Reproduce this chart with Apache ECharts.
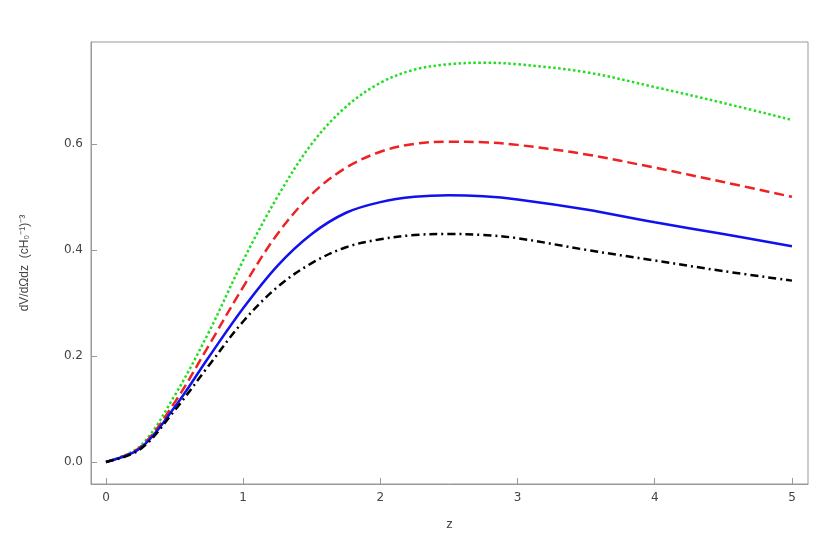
<!DOCTYPE html><html><head><meta charset="utf-8"><script src="https://cdn.jsdelivr.net/npm/echarts@6/dist/echarts.min.js"></script></head><body style="margin:0;background:#fff"><div id="c" style="width:820px;height:548px"></div><script>
const z=[0,0.25,0.5,0.75,1,1.25,1.5,1.75,2,2.25,2.5,2.75,3,3.5,4,4.5,5];
const green=[0,0.03,0.125,0.245,0.38,0.50,0.60,0.67,0.715,0.74,0.75,0.753,0.75,0.735,0.707,0.677,0.645];
const red=[0,0.028,0.112,0.22,0.33,0.43,0.505,0.555,0.585,0.60,0.604,0.603,0.598,0.58,0.555,0.528,0.50];
const blue=[0,0.026,0.103,0.198,0.29,0.37,0.43,0.47,0.49,0.50,0.503,0.501,0.495,0.476,0.452,0.43,0.407];
const black=[0,0.024,0.097,0.182,0.265,0.33,0.375,0.405,0.42,0.428,0.43,0.428,0.422,0.40,0.38,0.36,0.342];
const xTicks=[0,1,2,3,4,5];
const yTicks=[0,0.2,0.4,0.6];
const ch=echarts.init(document.getElementById('c'));
const mk=(d,c,t,w)=>({type:'line',data:z.map((v,i)=>[v,d[i]]),smooth:0.35,showSymbol:false,lineStyle:{color:c,type:t,width:w}});
const ax={axisLine:{onZero:false,lineStyle:{color:'#999'}},axisTick:{inside:true,length:6,lineStyle:{color:'#999'}},splitLine:{show:false},axisLabel:{color:'#444',fontSize:12,fontFamily:'DejaVu Sans'}};
ch.setOption({animation:false,
grid:{left:91,right:12,top:42,bottom:64,show:true,borderColor:'#999'},
xAxis:{type:'value',min:-0.109,max:5.117,name:'z',nameLocation:'middle',nameGap:34,nameTextStyle:{color:'#444',fontSize:13},...ax,
 axisTick:{...ax.axisTick,customValues:xTicks},axisLabel:{...ax.axisLabel,customValues:xTicks,formatter:v=>String(v)}},
yAxis:{type:'value',min:-0.0415,max:0.792,name:'dV/dΩdz  (cH₀⁻¹)⁻³',nameLocation:'middle',nameGap:60,nameTextStyle:{color:'#444',fontSize:12},...ax,
 axisTick:{...ax.axisTick,customValues:yTicks},axisLabel:{...ax.axisLabel,customValues:yTicks,formatter:v=>v.toFixed(1)}},
series:[mk(green,'#22dd22','dotted',2.5),mk(red,'#ee2222','dashed',2.5),mk(blue,'#1111ee','solid',2.5),mk(black,'#000',[8,4,2,4],2.5)]});
</script></body></html>
